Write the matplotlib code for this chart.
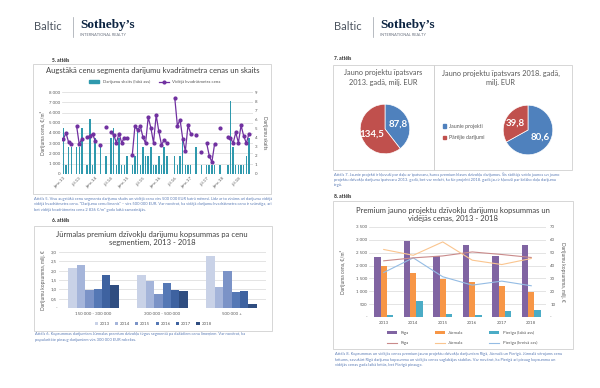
import numpy as np
import matplotlib
matplotlib.use('Agg')
import matplotlib.pyplot as plt
import matplotlib.patches as patches
from matplotlib.lines import Line2D

plt.rcParams['font.family'] = ['Lato', 'DejaVu Sans']

# ---------- data ----------
# 5. attels: monthly deals (right axis) and average price per m2 (left axis)
month_labels = ['janv.13', 'jūl.13', 'janv.14', 'jūl.14', 'janv.15', 'jūl.15',
                'janv.16', 'jūl.16', 'janv.17', 'jūl.17', 'janv.18', 'jūl.18']
count5 = [5, 1, 3, 3, 0, 3, 3, 5, 0, 1, 6, 1,
          4, 0, 3, 0, 2, 0, 4, 5, 1, 4, 1, 1,
          2, 0, 1, 2, 5, 1, 3, 2, 2, 3, 1, 1,
          2, 1, 3, 2, 0, 0, 2, 1, 2, 4, 1, 1,
          1, 0, 3, 0, 1, 0, 1, 1, 1, 1, 0, 1,
          0, 0, 1, 8, 3, 1, 1, 1, 1, 2, 4, 0]
price5 = [3400, 4000, 3100, 2900, None, 4700, 2900, 3450, None, 3600, 3700, 3900,
          3250, None, 2850, None, 4600, None, 4100, 3800, 3050, 3950, 3050, 3550,
          3550, None, 1850, 4700, 4250, 4700, 3600, 3000, 5550, 4500, 3050, 5750,
          4150, 2850, 3300, 3050, None, None, 7450, 4700, 5300, 3450, 2250, 4750,
          3950, None, 3850, None, 2100, None, 3050, 1800, 1150, 2900, None, 4500,
          None, None, 3600, 3550, 3000, 4050, 3050, 4750, 3700, 3000, 3950, None]

# 6. attels: Jurmala totals by price segment, mln EUR
segments6 = ['150 000 - 300 000', '300 000 - 500 000', '500 000 +']
years6 = ['2013', '2014', '2015', '2016', '2017', '2018']
v2013 = [2.16, 1.79, 2.77]
v2014 = [2.32, 1.43, 1.11]
v2015 = [0.98, 0.73, 2.00]
v2016 = [1.00, 1.36, 0.86]
v2017 = [1.75, 0.98, 0.91]
v2018 = [1.25, 0.93, 0.23]

# 7. attels: share of new projects, mln EUR
pie2013 = [87.8, 134.5]
pie2018 = [80.6, 39.8]
pie_labels = ['Jaunie projekti', 'Pārējie darījumi']

# 8. attels
years8 = ['2013', '2014', '2015', '2016', '2017', '2018']
riga_bar = [2340, 2960, 2365, 2790, 2365, 2815]
jurmala_bar = [2000, 1705, 1470, 1345, 1215, 980]
pieriga_bar = [1.5, 12.4, 2.1, 1.6, 4.7, 5.4]
riga_line = [43.7, 46.0, 47.5, 50.6, 48.6, 46.3]
jurmala_line = [52.5, 48.0, 58.4, 44.2, 40.8, 45.5]
pieriga_line = [1730, 2300, 1565, 1240, 1395, 1215]

# ---------- helpers ----------
W, H = 600, 388
fig = plt.figure(figsize=(6, 3.88), dpi=100)

def rect(x0, y0, x1, y1):
    return [x0 / W, 1 - y1 / H, (x1 - x0) / W, (y1 - y0) / H]

def txt(x, y, s, **kw):
    fig.text(x / W, 1 - y / H, s, **kw)

def box(x0, y0, x1, y1):
    fig.add_artist(patches.Rectangle((x0 / W, 1 - y1 / H), (x1 - x0) / W, (y1 - y0) / H,
                                     transform=fig.transFigure, fill=False,
                                     edgecolor='#d0d0d0', lw=0.6))

def thousands(v):
    return '-' if v == 0 else f'{v:,.0f}'.replace(',', ' ')

GRID = '#d9d9d9'
TICK = '#595959'
CAP = '#5a7bb5'
TS = 3.2

def clean(ax):
    for s in ax.spines.values():
        s.set_visible(False)
    ax.tick_params(length=0, pad=1.5, labelsize=TS, colors=TICK)

# ---------- logos ----------
for off in (0, 300):
    txt(34 + off, 27, 'Baltic', fontsize=8, color='#4d5560', va='center')
    fig.add_artist(Line2D([(73 + off) / W] * 2, [1 - 17 / H, 1 - 37 / H],
                          transform=fig.transFigure, color='#9aa0a8', lw=0.5))
    txt(80 + off, 25, 'Sotheby’s', fontsize=9.5, color='#0b2341', va='center',
        family='Liberation Serif', weight='bold')
    txt(80 + off, 35, 'INTERNATIONAL REALTY', fontsize=2.8, color='#6b7280', va='center')

# ---------- 5. attels ----------
txt(52, 60, '5. attēls', fontsize=3.5, weight='bold', color='#222222', va='center')
box(33, 64, 271, 194)
txt(153, 71, 'Augstākā cenu segmenta darījumu kvadrātmetra cenas un skaits',
    fontsize=5.5, color='#404040', ha='center', va='center')

ax5 = fig.add_axes(rect(62, 92, 253, 174))
ax5b = ax5.twinx()
x5 = np.arange(len(count5))
p5 = np.array(price5, dtype=float)
for v in range(0, 8001, 1000):
    ax5b.axhline(v * 9 / 8000, color=GRID, lw=0.5, zorder=0)
ax5b.bar(x5, count5, width=0.55, color='#2f99ad', zorder=2)
ax5.plot(x5, p5, color='#7030a0', lw=0.9, marker='o', ms=2.0)
ax5.set_zorder(ax5b.get_zorder() + 1)
ax5.patch.set_visible(False)
ax5.set_xlim(-0.5, len(count5) - 0.5)
ax5.set_ylim(0, 8000)
ax5b.set_ylim(0, 9)
ax5.set_yticks(range(0, 8001, 1000))
ax5.set_yticklabels([f'{v:,}'.replace(',', ' ') for v in range(0, 8001, 1000)])
ax5b.set_yticks(range(10))
ax5.set_xticks(range(0, len(count5), 6))
ax5.set_xticklabels(month_labels, rotation=45, ha='right', rotation_mode='anchor')
clean(ax5)
clean(ax5b)
txt(43, 133, 'Darījuma cena, €/m²', fontsize=3.5, color=TICK, rotation=90,
    ha='center', va='center')
txt(265, 133, 'Darījumu skaits', fontsize=3.5, color=TICK, rotation=270,
    ha='center', va='center')
h5 = [patches.Patch(color='#2f99ad'),
      Line2D([], [], color='#7030a0', lw=0.9, marker='o', ms=2.0)]
fig.legend(h5, ['Darījumu skaits (labā ass)', 'Vidējā kvadrātmetra cena'],
           loc='center', bbox_to_anchor=(155 / W, 1 - 82 / H), ncol=2, frameon=False,
           fontsize=TS, handlelength=2.2, handleheight=0.6, columnspacing=2,
           labelcolor=TICK)

cap5 = ['Attēls 5. Visu augstākā cenu segmenta darījumu skaits un vidējā cena virs 500 000 EUR katrā mēnesī. Līdz ar to zināms arī darījumu vidējā',
        'vidējā kvadrātmetra cena. "Darījumu cenu līmenis" – virs 500 000 EUR. Var novērot, ka vidējā darījumu kvadrātmetra cena ir svārstīga, arī',
        'bet vidējā kvadrātmetra cena 2 836 €/m² gada laikā samazinājās.']
for i, s in enumerate(cap5):
    txt(34, 199 + i * 5.5, s, fontsize=2.9, color=CAP, va='center')

# ---------- 6. attels ----------
txt(52, 220, '6. attēls', fontsize=3.5, weight='bold', color='#222222', va='center')
box(34, 226, 272, 331)
txt(152, 234, 'Jūrmalas premium dzīvokļu darījumu kopsummas pa cenu',
    fontsize=5.5, color='#404040', ha='center', va='center')
txt(152, 242, 'segmentiem, 2013 - 2018', fontsize=5.5, color='#404040',
    ha='center', va='center')

ax6 = fig.add_axes(rect(59, 252, 266, 308))
vals6 = [v2013, v2014, v2015, v2016, v2017, v2018]
cols6 = ['#c9d2e7', '#a5b5da', '#7b93c7', '#5578b5', '#3e62a0', '#2f4d80']
x6 = np.arange(len(segments6))
bw6 = 0.122
for k, (vals, c) in enumerate(zip(vals6, cols6)):
    ax6.bar(x6 + (k - 2.5) * bw6, vals, width=bw6, color=c, label=years6[k], zorder=2)
ax6.set_xlim(-0.5, 2.5)
ax6.set_ylim(0, 3.0)
ticks6 = np.arange(0, 3.01, 0.5)
ax6.set_yticks(ticks6)
ax6.set_yticklabels(['-' if t == 0 else f'{t:.1f}'.replace('.', ',') for t in ticks6])
ax6.set_xticks(x6)
ax6.set_xticklabels(segments6)
ax6.grid(axis='y', color=GRID, lw=0.5, zorder=0)
ax6.set_axisbelow(True)
clean(ax6)
ax6.tick_params(axis='x', pad=3)
txt(43, 280, 'Darījumu kopsumma, milj. €', fontsize=3.5, color=TICK, rotation=90,
    ha='center', va='center')
fig.legend(*ax6.get_legend_handles_labels(), loc='center',
           bbox_to_anchor=(153 / W, 1 - 324 / H), ncol=6, frameon=False, fontsize=TS,
           handlelength=0.7, handleheight=0.7, columnspacing=1.2, handletextpad=0.4,
           labelcolor=TICK)
cap6 = ['Attēls 6. Kopsummas darījumiem Jūrmalas premium dzīvokļu tirgus segmentā pa dažādiem cenu līmeņiem. Var novērot, ka',
        'popularitāte pieaug darījumiem virs 300 000 EUR robežas.']
for i, s in enumerate(cap6):
    txt(35, 334 + i * 5.5, s, fontsize=2.9, color=CAP, va='center')

# ---------- 7. attels ----------
txt(334, 59, '7. attēls', fontsize=3.5, weight='bold', color='#222222', va='center')
box(333, 65, 434, 170)
box(434, 65, 572, 170)
txt(383, 73, 'Jauno projektu īpatsvars', fontsize=5.3, color=TICK, ha='center', va='center')
txt(383, 82, '2013. gadā, milj. EUR', fontsize=5.3, color=TICK, ha='center', va='center')
txt(501, 73, 'Jauno projektu īpatsvars 2018. gadā,', fontsize=5.3, color=TICK,
    ha='center', va='center')
txt(501, 82, 'milj. EUR', fontsize=5.3, color=TICK, ha='center', va='center')

pie_cols = ['#4f81bd', '#c0504d']
for vals, bx in ((pie2013, (354, 98, 416, 160)), (pie2018, (497, 99, 559, 161))):
    axp = fig.add_axes(rect(*bx))
    tot = sum(vals)
    wedges, _, autot = axp.pie(vals, colors=pie_cols, startangle=90, counterclock=False,
                               autopct=lambda p, t=tot: f'{p * t / 100:.1f}'.replace('.', ','),
                               pctdistance=0.58,
                               wedgeprops=dict(edgecolor='white', lw=0.5),
                               textprops=dict(color='white', fontsize=7, weight='bold'))
    axp.set_aspect('equal')
fig.legend([patches.Patch(color=c) for c in pie_cols], pie_labels, loc='upper left',
           bbox_to_anchor=(438 / W, 1 - 119 / H), frameon=False, fontsize=3.8,
           handlelength=0.6, handleheight=0.6, labelspacing=1.2, handletextpad=0.6,
           labelcolor=TICK)
cap7 = ['Attēls 7. Jaunie projekti ir kļuvuši par daļu ar īpatsvaru, kuros premium klases dzīvokļu darījumos. Šis rādītājs veido jaunos un jauno',
        'projektu dzīvokļu darījumu īpatsvaru 2013. gadā, bet var redzēt, ka šie projekti 2018. gadā jau ir kļuvuši par lielāko daļu darījumu',
        'tirgū.']
for i, s in enumerate(cap7):
    txt(334, 174 + i * 5.5, s, fontsize=2.9, color=CAP, va='center')

# ---------- 8. attels ----------
txt(334, 197, '8. attēls', fontsize=3.5, weight='bold', color='#222222', va='center')
box(333, 201, 573, 349)
txt(453, 210, 'Premium jauno projektu dzīvokļu darījumu kopsummas un',
    fontsize=5.5, color='#404040', ha='center', va='center')
txt(453, 218, 'vidējās cenas, 2013 - 2018', fontsize=5.5, color='#404040',
    ha='center', va='center')

ax8 = fig.add_axes(rect(369, 227, 546, 317))
ax8b = ax8.twinx()
x8 = np.arange(len(years8))
bw8 = 0.22
c_r, c_j, c_p = '#8064a2', '#f79646', '#4bacc6'
l_r, l_j, l_p = '#c98a8a', '#fac58f', '#94bce4'
ax8.grid(axis='y', color=GRID, lw=0.5, zorder=0)
ax8.set_axisbelow(True)
b1 = ax8.bar(x8 - bw8, riga_bar, width=bw8, color=c_r, zorder=2)
b2 = ax8.bar(x8, jurmala_bar, width=bw8, color=c_j, zorder=2)
p3, = ax8.plot(x8, pieriga_line, color=l_p, lw=0.8, zorder=3)
b3 = ax8b.bar(x8 + bw8, pieriga_bar, width=bw8, color=c_p, zorder=2)
p1, = ax8b.plot(x8, riga_line, color=l_r, lw=0.8, zorder=3)
p2, = ax8b.plot(x8, jurmala_line, color=l_j, lw=0.8, zorder=3)
ax8.set_xlim(-0.5, len(years8) - 0.5)
ax8.set_ylim(0, 3500)
ax8b.set_ylim(0, 70)
ax8.set_yticks(range(0, 3501, 500))
ax8.set_yticklabels([thousands(v) for v in range(0, 3501, 500)])
ax8b.set_yticks(range(0, 71, 10))
ax8b.set_yticklabels(['-' if v == 0 else str(v) for v in range(0, 71, 10)])
ax8.set_xticks(x8)
ax8.set_xticklabels(years8)
clean(ax8)
clean(ax8b)
ax8.tick_params(axis='x', pad=3)
ax8b.tick_params(pad=3)
txt(343, 272, 'Darījuma cena, €/m²', fontsize=3.5, color=TICK, rotation=90,
    ha='center', va='center')
txt(563, 272, 'Darījumu kopsumma, milj. €', fontsize=3.5, color=TICK, rotation=270,
    ha='center', va='center')
fig.legend([b1, p1, b2, p2, b3, p3],
           ['Rīga', 'Rīga', 'Jūrmala', 'Jūrmala', 'Pierīga (labā ass)', 'Pierīga (kreisā ass)'],
           loc='center', bbox_to_anchor=(462 / W, 1 - 338 / H), ncol=3, frameon=False,
           fontsize=TS, handlelength=2.2, handleheight=0.6, labelspacing=1.4,
           columnspacing=6, labelcolor=TICK)
cap8 = ['Attēls 8. Kopsummas un vidējās cenas premium jauno projektu dzīvokļu darījumiem Rīgā, Jūrmalā un Pierīgā. Jūrmalā vērojams cenu',
        'kritums, savukārt Rīgā darījumu kopsumma un vidējās cenas saglabājas stabilas. Var novērot, ka Pierīgā arī pieaug kopsumma un',
        'vidējās cenas gada laikā kritās, bet Pierīgā pieauga.']
for i, s in enumerate(cap8):
    txt(335, 354 + i * 5.5, s, fontsize=2.9, color=CAP, va='center')

fig.savefig('out.png', dpi=100, facecolor='white')
